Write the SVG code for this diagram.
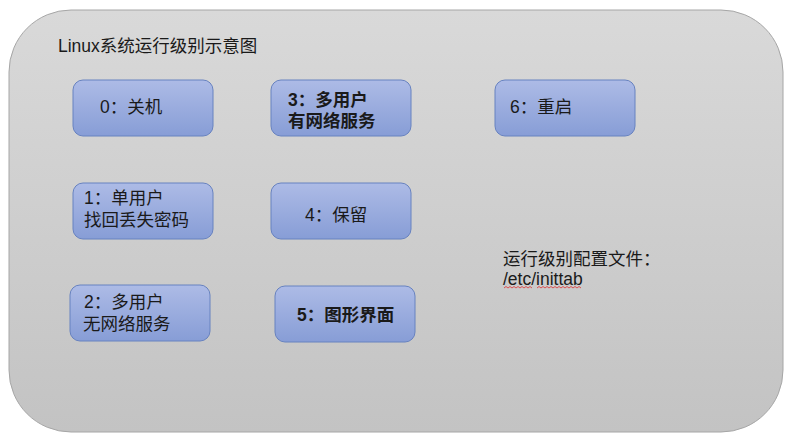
<svg xmlns="http://www.w3.org/2000/svg" width="793" height="442" viewBox="0 0 793 442">
<defs>
<linearGradient id="bg" x1="0" y1="0" x2="0" y2="1">
<stop offset="0" stop-color="#d9d9d9"/>
<stop offset="1" stop-color="#c3c3c3"/>
</linearGradient>
<linearGradient id="nb" x1="0" y1="0" x2="0" y2="1">
<stop offset="0" stop-color="#adbbe6"/>
<stop offset="1" stop-color="#879dd6"/>
</linearGradient>
<style>
.node{fill:url(#nb);stroke:#6782c0;stroke-width:1}
text{font-family:"Liberation Sans","Noto Sans CJK SC",sans-serif;font-size:17.5px;fill:#1a1a1a}
.b{font-weight:bold}
</style>
</defs>
<rect width="793" height="442" fill="#ffffff"/>
<rect id="panel" x="9" y="10" width="774" height="422" rx="62" ry="62" fill="url(#bg)" stroke="#a6a6a6" stroke-width="1"/>
<text x="58" y="52" font-size="15.5">Linux系统运行级别示意图</text>
<g id="connectors"></g>
<g id="n0"><rect class="node" x="73" y="80" width="140" height="56" rx="10"/><text x="100" y="113">0：关机</text></g>
<g id="n3"><rect class="node" x="271" y="80" width="140" height="56" rx="10"/><text class="b" x="288" y="106">3：多用户</text><text class="b" x="288" y="127">有网络服务</text></g>
<g id="n6"><rect class="node" x="495" y="80" width="140" height="56" rx="10"/><text x="510" y="113">6：重启</text></g>
<g id="n1"><rect class="node" x="73" y="183" width="140" height="56" rx="10"/><text x="84" y="204">1：单用户</text><text x="84" y="226">找回丢失密码</text></g>
<g id="n4"><rect class="node" x="271" y="183" width="140" height="56" rx="10"/><text x="305" y="221">4：保留</text></g>
<g id="n2"><rect class="node" x="70" y="285" width="140" height="56" rx="10"/><text x="84" y="308">2：多用户</text><text x="83" y="330">无网络服务</text></g>
<g id="n5"><rect class="node" x="275" y="286" width="140" height="56" rx="10"/><text class="b" x="297" y="321">5：图形界面</text></g>
<g id="note">
<text x="503" y="265" font-size="16.5">运行级别配置文件：</text>
<text x="503" y="285" font-size="16.5">/etc/inittab</text>
<path d="M504,288 l2,-1.5 l2,1.5 l2,-1.5 l2,1.5 l2,-1.5 l2,1.5 l2,-1.5 l2,1.5 l2,-1.5 l2,1.5 l2,-1.5 l2,1.5 l2,-1.5 l2,1.5 M537,288 l2,-1.5 l2,1.5 l2,-1.5 l2,1.5 l2,-1.5 l2,1.5 l2,-1.5 l2,1.5 l2,-1.5 l2,1.5 l2,-1.5 l2,1.5 l2,-1.5 l2,1.5 l2,-1.5 l2,1.5 l2,-1.5 l2,1.5 l2,-1.5 l2,1.5 l2,-1.5 l2,1.5" fill="none" stroke="#e03030" stroke-width="0.8"/>
</g>
</svg>
